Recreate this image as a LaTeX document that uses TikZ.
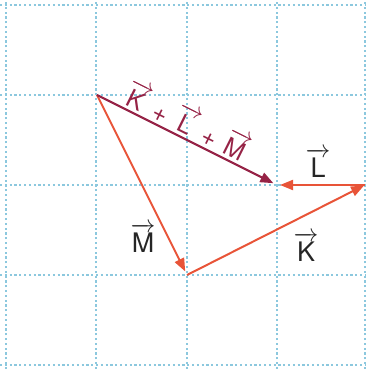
\documentclass[tikz,border=0pt]{standalone}
\usepackage{amsmath}
\usepackage{fontspec}
\setsansfont{TeX Gyre Heros}
\usetikzlibrary{arrows.meta}
\definecolor{gridblue}{RGB}{140,200,222}
\definecolor{vecred}{RGB}{232,84,56}
\definecolor{sumred}{RGB}{150,35,70}
\newcommand{\vv}[1]{$\overrightarrow{\hbox{#1}}$}
\begin{document}
\begin{tikzpicture}[x=1bp,y=1bp,
  gridline/.style={gridblue, line width=1.3bp, dash pattern=on 2.2bp off 2.6bp},
  vecarrow/.style={vecred, line width=2bp, -{Triangle[length=13bp,width=10bp]}},
  sumarrow/.style={sumred, line width=2.2bp, -{Triangle[length=13bp,width=10bp]}},
  lbl/.style={font=\sffamily\fontsize{27}{30}\selectfont, text=black!85, inner sep=0pt},
  sumlbl/.style={font=\sffamily\fontsize{25}{28}\selectfont, text=sumred, inner sep=0pt}]
\useasboundingbox (0,0) rectangle (366,369);
\foreach \x in {6,96,187,277,365} \draw[gridline] (\x,0) -- (\x,369);
\foreach \y in {4,94,184,274,364} \draw[gridline] (0,\y) -- (366,\y);
\coordinate (A) at (97,274);
\coordinate (B) at (277,184);
\coordinate (C) at (365,184);
\coordinate (D) at (187,94);
\draw[vecarrow, shorten >=4bp] (A) -- (D);
\draw[vecarrow, shorten >=1bp] (D) -- (C);
\draw[vecarrow, shorten >=3bp] (C) -- (B);
\draw[sumarrow, shorten >=4bp] (A) -- (B) node[pos=0.46, sloped, above=3bp, sumlbl] (S) {\vv{K}\hspace{8bp}+\hspace{8bp}\vv{L}\hspace{8bp}+\hspace{8bp}\vv{M}};
\node[lbl] (Lm) at (318,206) {\vv{L}};
\node[lbl] (Km) at (306,122) {\vv{K}};
\node[lbl] (Mm) at (143,131) {\vv{M}};
\end{tikzpicture}
\end{document}
